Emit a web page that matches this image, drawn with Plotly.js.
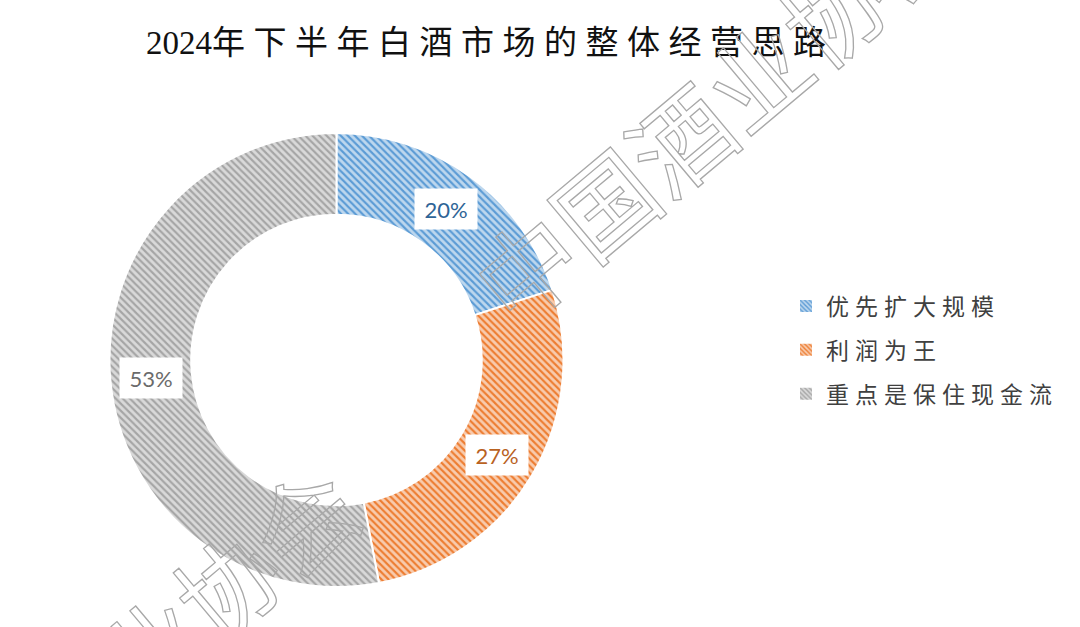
<!DOCTYPE html>
<html>
<head>
<meta charset="utf-8">
<script src="https://cdn.plot.ly/plotly-3.0.1.min.js"></script>
<style>
  html, body { margin: 0; padding: 0; background: #ffffff; }
  #chart { width: 1080px; height: 627px; }
  .legendtext { letter-spacing: 6px; }
</style>
</head>
<body>
<div id="chart"></div>
<script>
// ---- data ----
const titleYear = '2024';
const titleRest = '年下半年白酒市场的整体经营思路';
const categories = ['优先扩大规模', '利润为王', '重点是保住现金流'];
const shares = [20, 27, 53];
const shareLabels = ['20%', '27%', '53%'];
const watermarkText = '中国酒业协会';

// ---- styles ----
const bgColors = ['#bdd7ee', '#f8cbad', '#d9d9d9'];
const fgColors = ['#5b9bd5', '#ed7d31', '#a5a5a5'];
const labelColors = ['#2e6496', '#b9621f', '#6b6b6b'];

const W = 1080, H = 627;
const dom = { x: [0.1009, 0.5222], y: [0.0638, 0.7879] };
const hole = 0.64;

const pattern = { shape: '\\', fgcolor: fgColors, bgcolor: bgColors, size: 5, solidity: 0.42 };

const pie = {
  type: 'pie',
  labels: categories,
  values: shares,
  sort: false,
  direction: 'clockwise',
  rotation: 0,
  hole: hole,
  domain: dom,
  textinfo: 'none',
  hoverinfo: 'skip',
  showlegend: false,
  marker: { colors: bgColors, pattern: pattern, line: { color: '#ffffff', width: 2 } }
};

// legend entries (patterned squares) for each category; zero-height bars draw nothing
const legendTraces = categories.map((c, i) => ({
  type: 'bar',
  x: [0],
  y: [0],
  name: c,
  legendgroup: 'g' + i,
  hoverinfo: 'skip',
  marker: {
    color: bgColors[i],
    line: { width: 0 },
    pattern: { shape: '\\', fgcolor: fgColors[i], bgcolor: bgColors[i], size: 4, solidity: 0.45 }
  }
}));

// label positions from the share values (mid-angle of each slice, mid-ring radius)
const cxPx = (dom.x[0] + dom.x[1]) / 2 * W;
const cyPx = H - (dom.y[0] + dom.y[1]) / 2 * H;
const R = Math.min((dom.x[1] - dom.x[0]) * W, (dom.y[1] - dom.y[0]) * H) / 2;
const rMid = R * (1 + hole) / 2;
const total = shares.reduce((a, b) => a + b, 0);
let cum = 0;
const labelAnns = shares.map((v, i) => {
  const th = 2 * Math.PI * (cum + v / 2) / total;
  cum += v;
  const px = cxPx + rMid * Math.sin(th);
  const py = cyPx - rMid * Math.cos(th);
  return {
    xref: 'paper', yref: 'paper', x: px / W, y: 1 - py / H,
    xanchor: 'center', yanchor: 'middle', showarrow: false,
    text: shareLabels[i],
    font: { family: 'Lato, "Open Sans", sans-serif', size: 22, color: labelColors[i] },
    bgcolor: '#ffffff', borderpad: 2, width: 58, height: 36
  };
});

const wmAnns = [
  { x: 717 / W, y: 1 - 105 / H },
  { x: 110 / W, y: 1 - 678 / H }
].map(p => ({
  xref: 'paper', yref: 'paper', x: p.x, y: p.y,
  xanchor: 'center', yanchor: 'middle', showarrow: false,
  text: watermarkText, textangle: -40,
  font: { family: '"Noto Sans CJK SC", sans-serif', size: 100, color: '#b5b5b5' }
}));

const layout = {
  width: W, height: H,
  margin: { l: 0, r: 0, t: 0, b: 0 },
  paper_bgcolor: '#ffffff', plot_bgcolor: '#ffffff',
  title: {
    text: titleYear + '<span style="letter-spacing:8.5px">' + titleRest + '</span>',
    x: 0.454, xanchor: 'center', y: 1 - 42 / H, yanchor: 'middle',
    font: { family: '"Liberation Serif", "Noto Sans CJK SC", serif', size: 33, color: '#111111' }
  },
  xaxis: { visible: false }, yaxis: { visible: false },
  showlegend: true,
  legend: {
    x: 786 / W, xanchor: 'left', y: 1 - 350 / H, yanchor: 'middle',
    font: { family: '"Noto Sans CJK SC", sans-serif', size: 23, color: '#404040' },
    tracegroupgap: 11, itemwidth: 30, bgcolor: 'rgba(0,0,0,0)'
  },
  hovermode: false,
  annotations: wmAnns.concat(labelAnns)
};

Plotly.newPlot('chart', [pie].concat(legendTraces), layout, { displayModeBar: false, staticPlot: true }).then(() => {
  document.querySelectorAll('.annotation-text').forEach(el => {
    if (el.textContent === watermarkText) {
      el.style.fill = 'none';
      el.style.stroke = '#a8a8a8';
      el.style.strokeWidth = '1.3px';
    }
  });
});
</script>
</body>
</html>
